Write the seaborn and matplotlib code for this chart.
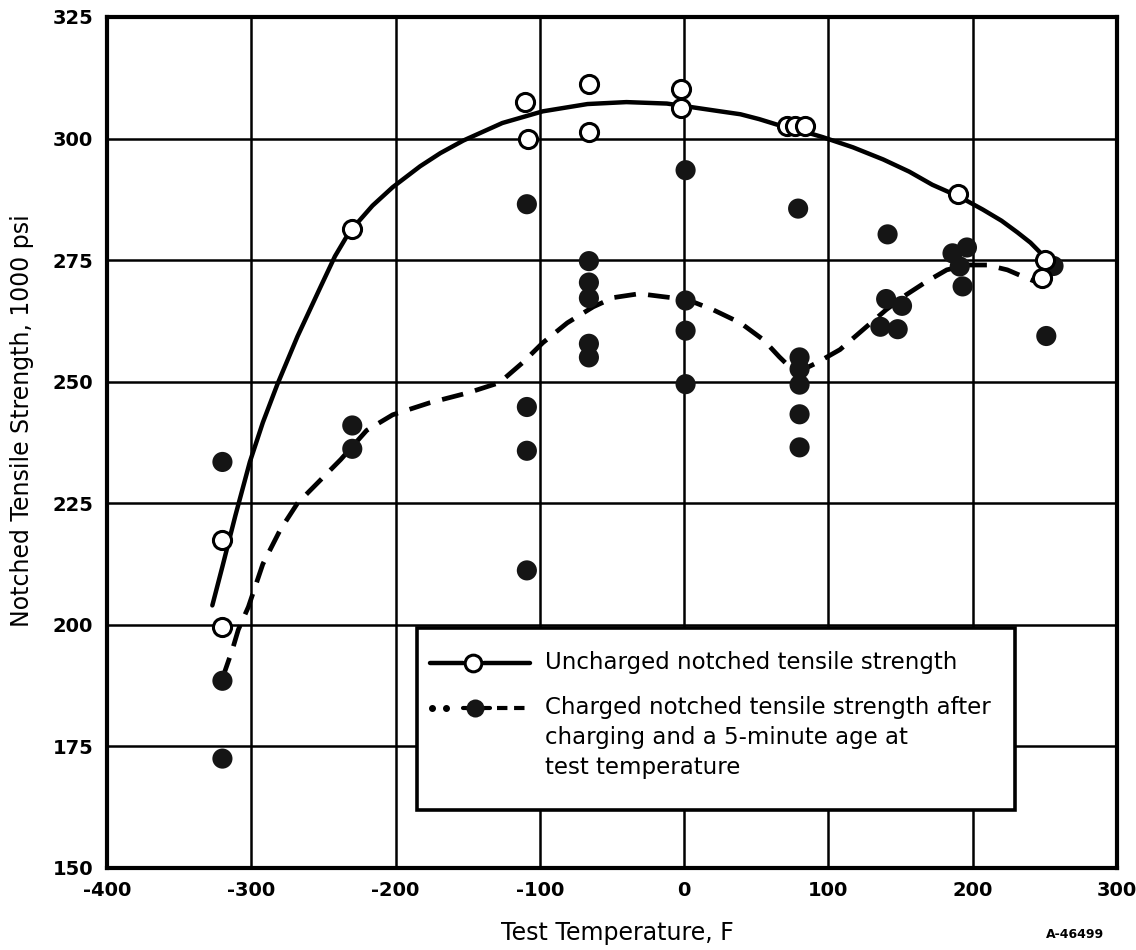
import matplotlib
matplotlib.use("Agg")
import matplotlib.pyplot as plt
import pandas as pd
import seaborn as sns
from matplotlib.patches import Rectangle
from matplotlib.lines import Line2D

# Uncharged notched specimens (open circles)
uncharged_temp = [-320, -320, -230, -110, -108, -66, -66, -2, -2, 71, 77, 84, 190, 250, 248]
uncharged_strength = [217.5, 199.5, 281.5, 307.5, 300.0, 311.3, 301.3, 310.2, 306.2,
                      302.5, 302.5, 302.5, 288.5, 275.0, 271.3]

# Charged notched specimens, 5-minute age (filled circles)
charged_temp = [-320, -320, -320, -230, -230, -109, -109, -109, -109,
                -66, -66, -66, -66, -66, 1, 1, 1, 1,
                79, 80, 80, 80, 80, 80,
                141, 140, 151, 136, 148,
                186, 196, 191, 193, 256, 251]
charged_strength = [233.5, 188.5, 172.5, 241.0, 236.2, 286.5, 244.8, 235.8, 211.2,
                    274.8, 270.4, 267.2, 257.8, 255.0, 293.5, 266.7, 260.5, 249.5,
                    285.6, 255.0, 252.6, 249.4, 243.3, 236.5,
                    280.3, 267.0, 265.6, 261.3, 260.8,
                    276.4, 277.6, 273.7, 269.6, 273.8, 259.4]

# Faired curve through the uncharged results
uncharged_curve_temp = [-327, -320, -311, -301, -292, -282, -268, -252, -242, -232, -216,
                        -202, -183, -169, -153, -126, -98, -67, -40, -12, 2, 25, 39,
                        52, 64, 80, 96, 117, 138, 156, 172, 191, 207, 220, 231, 240,
                        247, 250]
uncharged_curve_strength = [204.0, 212.0, 222.5, 233.5, 241.6, 249.4, 259.3, 269.5, 275.8,
                            280.8, 286.2, 290.0, 294.3, 297.0, 299.6, 303.2, 305.6, 307.1,
                            307.5, 307.2, 306.6, 305.6, 305.0, 304.0, 302.9, 301.7, 300.3,
                            298.2, 295.7, 293.2, 290.5, 288.0, 285.4, 283.1, 280.7, 278.6,
                            276.5, 274.7]

# Faired curve through the charged results
charged_curve_temp = [-320, -313, -309, -302, -292, -280, -268, -252, -238, -220, -202,
                      -176, -150, -128, -112, -98, -81, -63, -49, -31, -15, 2, 20, 39,
                      55, 66, 75, 79, 92, 108, 124, 140, 154, 168, 182, 196, 210, 224,
                      235, 245]
charged_curve_strength = [189.0, 195.0, 199.0, 203.7, 212.5, 219.5, 225.0, 229.8, 234.0,
                          240.0, 243.2, 245.7, 247.7, 249.8, 253.9, 258.0, 262.1, 265.4,
                          267.3, 268.1, 267.5, 266.9, 264.8, 262.1, 258.6, 255.1, 252.5,
                          252.0, 253.9, 256.6, 260.7, 264.8, 267.9, 270.6, 273.0, 274.0,
                          274.0, 273.0, 271.6, 270.4]

x_ticks = [-400, -300, -200, -100, 0, 100, 200, 300]
y_ticks = [150, 175, 200, 225, 250, 275, 300, 325]

legend_labels = ["Uncharged notched tensile strength",
                 "Charged notched tensile strength after\n"
                 "charging and a 5-minute age at\n"
                 "test temperature"]

sns.set_theme(style="white")
plt.rcParams["font.family"] = ["DejaVu Sans"]
plt.rcParams["text.color"] = "black"
plt.rcParams["axes.labelcolor"] = "black"
plt.rcParams["xtick.color"] = "black"
plt.rcParams["ytick.color"] = "black"

fig = plt.figure(figsize=(11.36, 9.5), dpi=100)
ax = fig.add_axes([107 / 1136, 82 / 950, 1010 / 1136, 851 / 950])

unc_pts = pd.DataFrame({"temp": uncharged_temp, "strength": uncharged_strength})
chg_pts = pd.DataFrame({"temp": charged_temp, "strength": charged_strength})
unc_fit = pd.DataFrame({"temp": uncharged_curve_temp, "strength": uncharged_curve_strength})
chg_fit = pd.DataFrame({"temp": charged_curve_temp, "strength": charged_curve_strength})

sns.lineplot(data=unc_fit, x="temp", y="strength", ax=ax, color="black", lw=3.2,
             sort=False, estimator=None, zorder=3)
sns.lineplot(data=chg_fit, x="temp", y="strength", ax=ax, color="black", lw=3.4,
             sort=False, estimator=None, zorder=3)
ax.lines[-1].set_linestyle((0, (4.6, 2.6)))
ax.lines[-1].set_dash_capstyle("butt")

sns.scatterplot(data=chg_pts, x="temp", y="strength", ax=ax, color="#151515",
                s=210, edgecolor="none", zorder=4)
sns.scatterplot(data=unc_pts, x="temp", y="strength", ax=ax, facecolor="white",
                edgecolor="black", linewidth=2.2, s=170, zorder=5)

ax.set_xlim(-400, 300)
ax.set_ylim(150, 325)
ax.set_xticks(x_ticks)
ax.set_yticks(y_ticks)
ax.set_xticklabels([str(t) for t in x_ticks], fontsize=14, fontweight="bold")
ax.set_yticklabels([str(t) for t in y_ticks], fontsize=14, fontweight="bold")
ax.tick_params(axis="both", length=0, colors="black")
ax.tick_params(axis="x", pad=9)
ax.tick_params(axis="y", pad=10)

ax.grid(True, color="black", lw=1.8)
ax.set_axisbelow(True)
for sp in ax.spines.values():
    sp.set_color("black")
    sp.set_linewidth(3.0)

ax.set_xlabel("Test Temperature, F", fontsize=17, va="center")
ax.set_ylabel("Notched Tensile Strength, 1000 psi", fontsize=17, va="center")
ax.xaxis.set_label_coords(0.505, -0.0765)
ax.yaxis.set_label_coords(-0.084, 0.526)

# Legend panel
ax.add_patch(Rectangle((0.307, 0.068), 0.592, 0.214, transform=ax.transAxes,
                       facecolor="white", edgecolor="black", lw=2.6, zorder=6))
tr = ax.transAxes
y1 = 0.241
ax.add_line(Line2D([0.320, 0.352], [y1, y1], transform=tr, color="black", lw=3.2, zorder=7))
ax.add_line(Line2D([0.373, 0.419], [y1, y1], transform=tr, color="black", lw=3.2, zorder=7))
ax.add_line(Line2D([0.362], [y1], transform=tr, marker="o", ms=12, mfc="white",
                   mec="black", mew=2.2, zorder=8))
ax.text(0.434, y1, legend_labels[0], transform=tr, fontsize=16.5, va="center",
        ha="left", zorder=8)

y2 = 0.188
ax.add_line(Line2D([0.322, 0.336], [y2, y2], transform=tr, ls="none", marker="o",
                   ms=4, color="black", zorder=7))
ax.add_line(Line2D([0.352, 0.379], [y2, y2], transform=tr, color="black", lw=3.0, zorder=7))
ax.add_line(Line2D([0.364], [y2], transform=tr, marker="o", ms=13, color="#151515",
                   mec="none", zorder=8))
ax.add_line(Line2D([0.386, 0.415], [y2, y2], transform=tr, color="black", lw=3.0,
                   ls=(0, (2.5, 1.6)), zorder=7))
ax.text(0.434, y2 + 0.014, legend_labels[1], transform=tr, fontsize=16.5, va="top",
        ha="left", linespacing=1.38, zorder=8)

fig.text(1075 / 1136, 1 - 935 / 950, "A-46499", fontsize=9, fontweight="bold",
         ha="center", va="center")

fig.savefig("out.png", dpi=100, facecolor="white")
